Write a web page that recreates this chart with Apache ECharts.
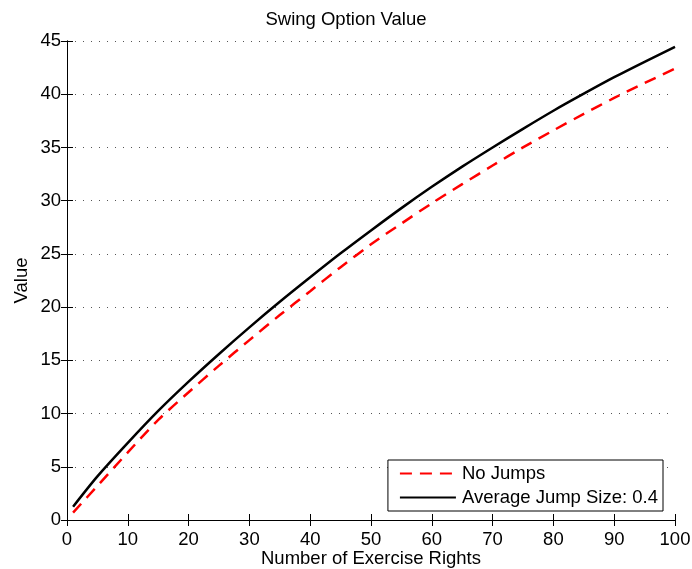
<!DOCTYPE html>
<html>
<head>
<meta charset="utf-8">
<script src="https://cdn.jsdelivr.net/npm/echarts@6/dist/echarts.min.js"></script>
<style>html,body{margin:0;padding:0;background:#fff;}#chart{width:692px;height:569px;}</style>
</head>
<body>
<div id="chart"></div>
<script>
var xValues = [1, 5, 10, 15, 20, 25, 30, 35, 40, 45, 50, 55, 60, 65, 70, 75, 80, 85, 90, 95, 100];
var noJumps = [0.7, 3.2, 6.35, 9.4, 12.0, 14.5, 16.9, 19.25, 21.5, 23.75, 25.9, 27.85, 29.75, 31.55, 33.3, 35.0, 36.6, 38.15, 39.65, 41.05, 42.4];
var withJumps = [1.25, 4.1, 7.25, 10.25, 13.0, 15.6, 18.1, 20.5, 22.8, 25.05, 27.2, 29.3, 31.3, 33.2, 35.0, 36.75, 38.45, 40.05, 41.6, 43.05, 44.45];
var seriesNames = ['No Jumps', 'Average Jump Size: 0.4'];

function pairs(xs, ys) { return xs.map(function (x, i) { return [x, ys[i]]; }); }

var font = 'Liberation Sans, Arial, Helvetica, sans-serif';
var fs = 18.5;
var chart = echarts.init(document.getElementById('chart'));
chart.setOption({
  backgroundColor: '#fff',
  animation: false,
  title: {
    text: 'Swing Option Value', left: 'center', top: 10, padding: 0,
    textStyle: { fontFamily: font, fontSize: fs, fontWeight: 'normal', color: '#000' }
  },
  grid: { left: 67, right: 17, top: 41, bottom: 49, containLabel: false, outerBoundsMode: 'none' },
  legend: {
    orient: 'vertical', right: 29, bottom: 58,
    backgroundColor: '#fff', borderColor: '#000', borderWidth: 1,
    padding: [4, 5, 4, 11], itemGap: 5, itemWidth: 56, itemHeight: 14,
    textStyle: { fontFamily: font, fontSize: fs, color: '#000', padding: [0, 0, 0, 1] },
    itemStyle: { opacity: 0, borderWidth: 0 },
    data: seriesNames
  },
  xAxis: [{
    type: 'value', min: 0, max: 100, interval: 10,
    name: 'Number of Exercise Rights', nameLocation: 'middle', nameGap: 29, nameMoveOverlap: false,
    nameTextStyle: { fontFamily: font, fontSize: fs, color: '#000' },
    axisLine: { lineStyle: { color: '#000', width: 1 } },
    axisTick: { inside: true, length: 6, lineStyle: { color: '#000' } },
    axisLabel: { fontFamily: font, fontSize: fs, color: '#000', margin: 10 },
    splitLine: { show: false }
  }, {
    type: 'value', min: 0, max: 100, interval: 10, position: 'top',
    axisLine: { show: true, lineStyle: { color: '#000', width: 1 } },
    axisTick: { inside: true, length: 6, lineStyle: { color: '#000' } },
    axisLabel: { show: false }, splitLine: { show: false }
  }],
  yAxis: [{
    type: 'value', min: 0, max: 45, interval: 5,
    name: 'Value', nameLocation: 'middle', nameGap: 36, nameMoveOverlap: false,
    nameTextStyle: { fontFamily: font, fontSize: fs, color: '#000' },
    axisLine: { show: true, lineStyle: { color: '#000', width: 1 } },
    axisTick: { show: true, inside: true, length: 6, lineStyle: { color: '#000' } },
    axisLabel: { fontFamily: font, fontSize: fs, color: '#000', margin: 6 },
    splitLine: { show: true, lineStyle: { color: '#555', width: 1, type: [1, 7] } }
  }, {
    type: 'value', min: 0, max: 45, interval: 5, position: 'right',
    axisLine: { show: true, lineStyle: { color: '#000', width: 1 } },
    axisTick: { show: true, inside: true, length: 6, lineStyle: { color: '#000' } },
    axisLabel: { show: false }, splitLine: { show: false }
  }],
  series: [{
    name: seriesNames[0], type: 'line', data: pairs(xValues, noJumps),
    smooth: 0.3, symbol: 'none', xAxisIndex: 0, yAxisIndex: 0,
    lineStyle: { color: '#ff0000', width: 2.5, type: [12, 8] },
    itemStyle: { color: '#ff0000' }, z: 3
  }, {
    name: seriesNames[1], type: 'line', data: pairs(xValues, withJumps),
    smooth: 0.3, symbol: 'none', xAxisIndex: 0, yAxisIndex: 0,
    lineStyle: { color: '#000', width: 2.5 },
    itemStyle: { color: '#000' }, z: 4
  }]
});
</script>
</body>
</html>
